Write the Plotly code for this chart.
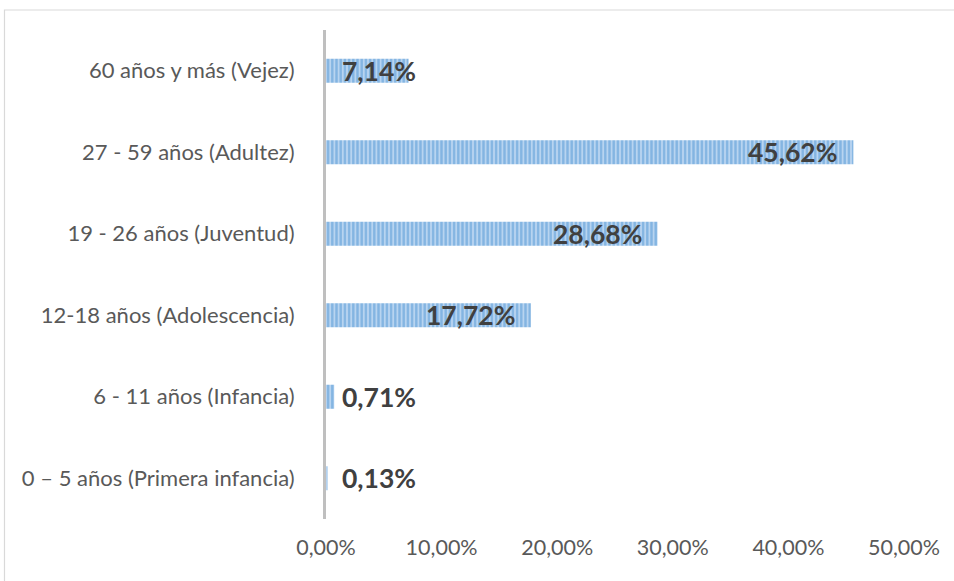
import plotly.graph_objects as go

categories = ["0 – 5 años (Primera infancia)", "6 - 11 años (Infancia)", "12-18 años (Adolescencia)",
              "19 - 26 años (Juventud)", "27 - 59 años (Adultez)", "60 años y más (Vejez)"]
values = [0.13, 0.71, 17.72, 28.68, 45.62, 7.14]
labels = ["0,13%", "0,71%", "17,72%", "28,68%", "45,62%", "7,14%"]
tick_vals = [0, 10, 20, 30, 40, 50]
tick_text = ["0,00%", "10,00%", "20,00%", "30,00%", "40,00%", "50,00%"]

W, H = 954, 581
L, R, T, B = 326, 50, 30, 62

fig = go.Figure()
fig.add_trace(go.Bar(
    y=categories, x=values, orientation="h",
    marker=dict(color="#5B9BD5",
                line=dict(width=0),
                pattern=dict(shape="|", fgcolor="#4E93D3", bgcolor="#B8D4F0",
                             size=4.2, solidity=0.55)),
    hoverinfo="skip",
))

anns = []
for c, v, t in zip(categories, values, labels):
    big = v >= 10
    anns.append(dict(x=v if big else 0, y=c, xref="x", yref="y", text="<b>" + t + "</b>",
                     showarrow=False,
                     xanchor="right" if big else "left",
                     xshift=-14 if big else 14,
                     font=dict(family="Lato", size=26.5, color="#404040")))

pw = W - L - R
ph = H - T - B
fig.update_layout(
    width=W, height=H,
    margin=dict(l=L, r=R, t=T, b=B),
    paper_bgcolor="white", plot_bgcolor="white",
    bargap=0.705, showlegend=False,
    annotations=anns,
    shapes=[dict(type="rect", xref="paper", yref="paper",
                 x0=(4.5 - L) / pw, x1=(W + 40 - L) / pw,
                 y0=-(H + 40 - (T + ph)) / ph, y1=(T + ph - 10) / ph,
                 line=dict(color="#D9D9D9", width=1.2), layer="below")],
    xaxis=dict(range=[0, 50], tickvals=tick_vals, ticktext=tick_text, showgrid=False,
               zeroline=False, showline=False, ticks="", ticklabelstandoff=13,
               tickfont=dict(family="Lato", size=21.5, color="#595959")),
    yaxis=dict(categoryorder="array", categoryarray=categories, showgrid=False,
               showline=True, linecolor="#BFBFBF", linewidth=3, ticks="",
               ticklabelstandoff=24,
               tickfont=dict(family="Lato", size=22, color="#595959")),
)
fig.write_html("out.html", config={"displayModeBar": False, "staticPlot": True},
               post_script="document.body.style.margin='0px';document.body.style.overflow='hidden';")
